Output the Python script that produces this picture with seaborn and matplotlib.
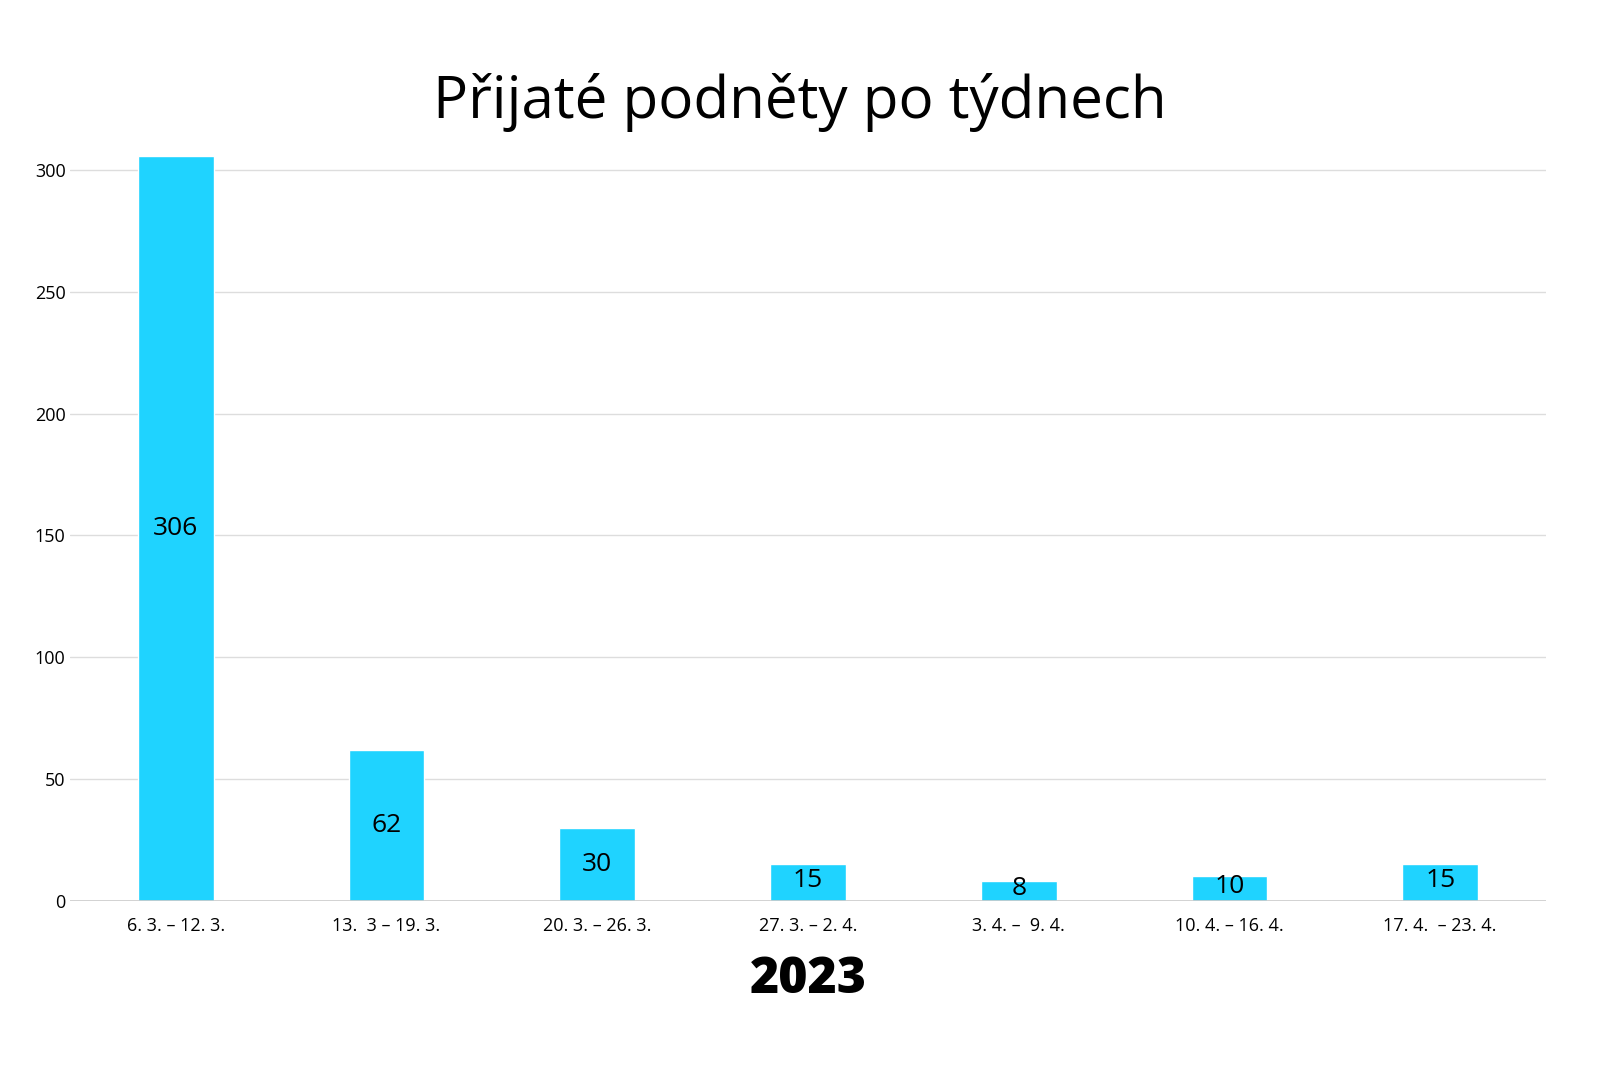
import matplotlib
matplotlib.use("Agg")
import matplotlib.pyplot as plt
import seaborn as sns
import pandas as pd

weeks = ["6. 3. – 12. 3.", "13.  3 – 19. 3.", "20. 3. – 26. 3.", "27. 3. – 2. 4.",
         "3. 4. –  9. 4.", "10. 4. – 16. 4.", "17. 4.  – 23. 4."]
counts = [306, 62, 30, 15, 8, 10, 15]
df = pd.DataFrame({"week": weeks, "count": counts})

sns.set_theme(style="white")
plt.rcParams['font.family'] = ['Open Sans', 'DejaVu Sans']

fig = plt.figure(figsize=(16, 10.8), dpi=100)
ax = fig.add_axes([0.044, 0.166, 0.922, 0.69])
sns.barplot(data=df, x="week", y="count", color="#1fd3ff", saturation=1, width=0.36, ax=ax)
ax.set_ylim(0, 306)
ax.set_xlim(-0.5, 6.5)
ax.set_yticks([0, 50, 100, 150, 200, 250, 300])
ax.yaxis.grid(True, color="#dddddd", linewidth=1)
ax.set_axisbelow(True)
for s in ax.spines.values():
    s.set_visible(False)
ax.axhline(0, color="#cccccc", linewidth=1.2)
ax.tick_params(axis="both", length=0, labelsize=13, colors="black")
ax.tick_params(axis="x", pad=12)
for i, v in enumerate(counts):
    ax.text(i, v / 2 if v > 20 else v / 2 + 1, str(v), ha="center", va="center", fontsize=19, color="black")
ax.set_ylabel("")
ax.set_xlabel("2023", fontsize=36, fontweight="heavy", color="black", labelpad=14)
fig.text(0.5, 0.905, "Přijaté podněty po týdnech", ha="center", va="center", fontsize=42,
         fontweight="medium", color="black")
fig.savefig("out.png", dpi=100, facecolor="white")
